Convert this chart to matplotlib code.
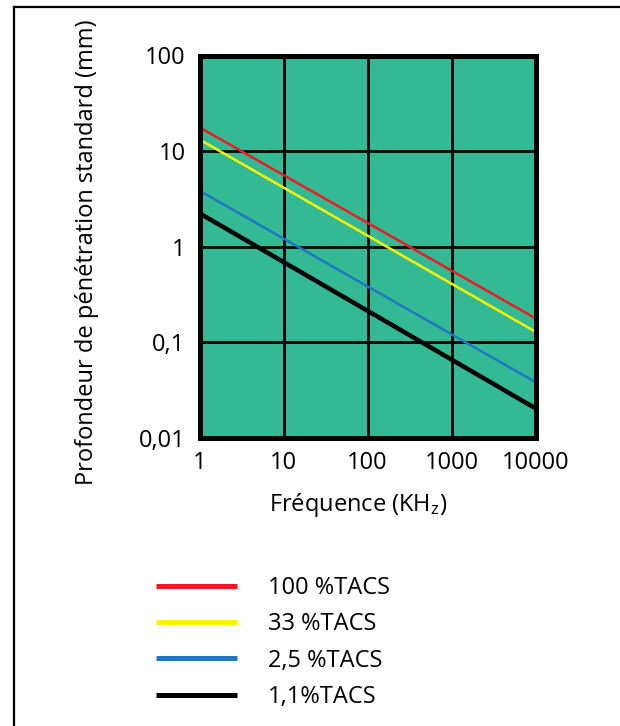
import matplotlib
matplotlib.use("Agg")
import matplotlib.pyplot as plt
from matplotlib.lines import Line2D

plt.rcParams['font.family'] = ['Open Sans', 'DejaVu Sans']
plt.rcParams['mathtext.fontset'] = 'custom'
plt.rcParams['mathtext.rm'] = 'Open Sans'
plt.rcParams['mathtext.it'] = 'Open Sans'

# fréquence (kHz) aux extrémités des droites
freq = [1, 10000]
# profondeur de pénétration (mm)
depth_100 = [17.7, 0.177]
depth_33 = [13.2, 0.128]
depth_25 = [3.84, 0.038]
depth_11 = [2.23, 0.0202]

labels = ['100 %TACS', '33 %TACS', '2,5 %TACS', '1,1%TACS']
colors = ['#ed1c24', '#fff200', '#1f78c1', '#000000']
widths = [1.8, 1.8, 1.8, 3.2]

xticks = [1, 10, 100, 1000, 10000]
xticklabels = ['1', '10', '100', '1000', '10000']
yticks = [0.01, 0.1, 1, 10, 100]
yticklabels = ['0,01', '0,1', '1', '10', '100']

fig = plt.figure(figsize=(6.2, 7.26), dpi=100)
ax = fig.add_axes([199.5 / 620, 288.5 / 726, 336 / 620, 382 / 726])
ax.set_facecolor('#33b994')

lines = []
for d, lab, c, w in zip([depth_100, depth_33, depth_25, depth_11], labels, colors, widths):
    ln, = ax.plot(freq, d, color=c, lw=w, label=lab, solid_capstyle='butt')
    lines.append(ln)

ax.set_xscale('log')
ax.set_yscale('log')
ax.set_xlim(1, 10000)
ax.set_ylim(0.01, 100)
ax.set_xticks(xticks)
ax.set_xticklabels(xticklabels)
ax.set_yticks(yticks)
ax.set_yticklabels(yticklabels)
ax.minorticks_off()
ax.tick_params(length=0, labelsize=17)
ax.tick_params(axis='y', pad=10)
ax.tick_params(axis='x', pad=10)
ax.grid(True, color='black', lw=2)
ax.set_axisbelow(True)
for s in ax.spines.values():
    s.set_linewidth(3.6)
    s.set_color('black')
    s.set_zorder(5)

fig.text(358 / 620, 1 - 505 / 726, 'Fréquence (KH$_\\mathrm{z}$)', fontsize=17,
         ha='center', va='center')
fig.text(87 / 620, 1 - 252 / 726, 'Profondeur de pénétration standard (mm)',
         fontsize=17, rotation=90, ha='center', va='center')

leg = fig.legend(handles=lines, loc='upper left', bbox_to_anchor=(156 / 620, 1 - 576 / 726),
                 frameon=False, fontsize=17, handlelength=3.43, handletextpad=1.31,
                 borderpad=0, borderaxespad=0, labelspacing=0.52)
for l in leg.get_lines():
    l.set_linewidth(3.6)

# cadre (bords gauche et haut seulement)
fig.add_artist(Line2D([13.5 / 620, 13.5 / 620], [0, 1 - 7 / 726], color='black', lw=1.6,
                      transform=fig.transFigure))
fig.add_artist(Line2D([13.5 / 620, 1], [1 - 7 / 726, 1 - 7 / 726], color='black', lw=1.6,
                      transform=fig.transFigure))

fig.savefig('out.png', dpi=100)
